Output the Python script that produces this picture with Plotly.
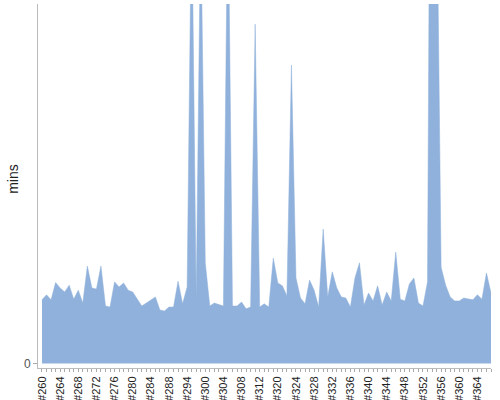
import plotly.graph_objects as go

categories = (
    [f"#{n}" for n in range(260, 289)]
    + ["#290", "#291", "#293", "#294", "#296", "#297", "#299"]
    + [f"#{n}" for n in range(300, 313)]
    + ["#314", "#316", "#318"]
    + [f"#{n}" for n in range(320, 368)]
)

mins = [
    17.7, 19.1, 17.7, 22.5, 21.0, 19.9, 21.8, 17.9, 20.4, 16.8,
    27.1, 21.0, 20.7, 27.1, 16.0, 15.7, 22.7, 21.3, 22.4, 20.4,
    19.9, 17.9, 16.0, 16.8, 17.7, 18.5, 14.9, 14.6, 15.7, 15.7,
    22.9, 16.6, 21.3, 130.0, 17.7, 125.0, 28.0, 16.0, 16.8, 16.3,
    16.0, 135.0, 16.0, 16.0, 17.1, 15.2, 15.7, 94.4, 15.7, 16.6,
    15.7, 29.3, 22.4, 21.6, 18.8, 83.0, 23.8, 18.2, 16.6, 23.2,
    20.4, 15.7, 37.4, 18.5, 25.5, 21.0, 18.5, 18.2, 15.7, 23.8,
    28.0, 16.3, 19.6, 17.4, 21.6, 16.3, 19.9, 17.4, 31.0, 17.9,
    17.4, 22.1, 23.8, 16.8, 16.0, 22.7, 260.0, 140.0, 26.8, 21.8,
    18.5, 17.4, 17.4, 18.2, 17.9, 17.7, 19.1, 17.9, 25.2, 19.6,
]

tick_text = [c if i % 4 == 0 else "" for i, c in enumerate(categories)]

fill_color = "#8fb1db"

fig = go.Figure()
fig.add_trace(go.Scatter(
    x=categories,
    y=mins,
    mode="lines",
    fill="tozeroy",
    fillcolor=fill_color,
    line=dict(color=fill_color, width=0.5),
    hoverinfo="x+y",
))

fig.update_layout(
    width=500,
    height=400,
    margin=dict(l=38, r=9, t=4, b=32),
    paper_bgcolor="white",
    plot_bgcolor="white",
    showlegend=False,
    font=dict(family="Liberation Sans, Arial, sans-serif", color="#333333"),
    xaxis=dict(
        type="category",
        categoryorder="array",
        categoryarray=categories,
        range=[-0.88, 99],
        tickmode="array",
        tickvals=categories,
        ticktext=tick_text,
        tickangle=-90,
        ticks="outside",
        ticklen=3,
        tickcolor="#aaaaaa",
        tickfont=dict(size=11, color="#222222"),
        showline=True,
        linecolor="#bbbbbb",
        linewidth=1,
        showgrid=False,
        zeroline=False,
        automargin=False,
    ),
    yaxis=dict(
        range=[-1.25, 100],
        tickmode="array",
        tickvals=[0],
        ticktext=["0"],
        ticks="outside",
        ticklen=4,
        tickcolor="#aaaaaa",
        tickfont=dict(size=12, color="#555555"),
        showline=True,
        linecolor="#bbbbbb",
        linewidth=1,
        showgrid=False,
        zeroline=False,
        automargin=False,
    ),
    annotations=[dict(
        text="mins",
        xref="paper", yref="paper",
        x=-0.055, y=0.52,
        xanchor="center", yanchor="middle",
        textangle=-90,
        showarrow=False,
        font=dict(size=14, color="#222222"),
    )],
)

fig.write_html(
    "out.html",
    config={"displayModeBar": False},
    post_script="document.body.style.margin='0';document.body.style.padding='0';",
)
